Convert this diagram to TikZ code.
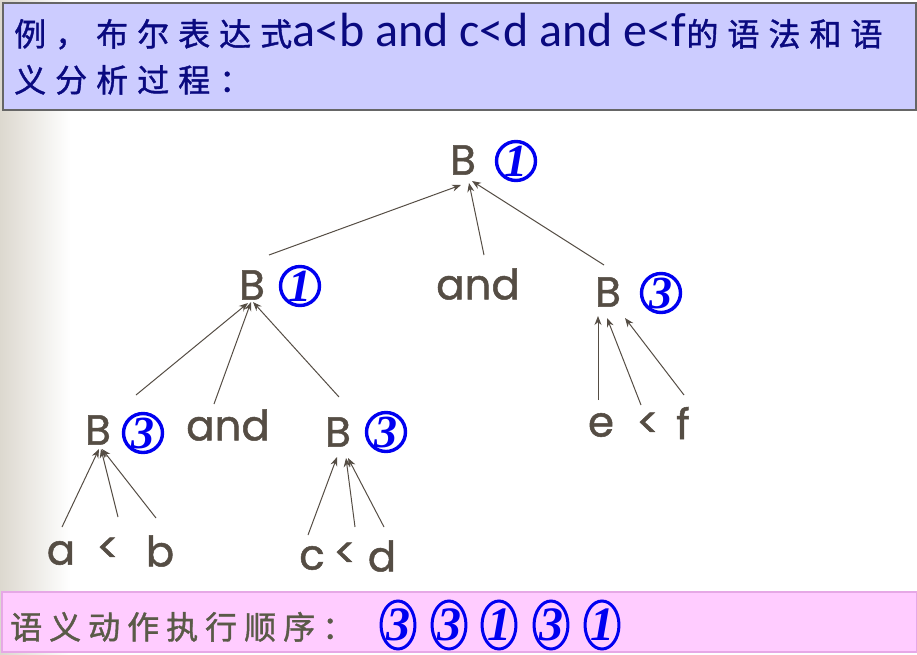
\documentclass[tikz,border=0pt]{standalone}
\usepackage{fontspec}
\setmainfont{Carlito}
\newfontfamily\cjk{Noto Sans CJK SC}[FakeBold=1.2]
\newfontfamily\treefont{Poppins}[FakeBold=1.2]
\newfontfamily\digfont{Liberation Serif}
\definecolor{hdrfill}{HTML}{CCCCFF}
\definecolor{hdrtext}{HTML}{0A0A80}
\definecolor{ftrfill}{HTML}{FFCCFF}
\definecolor{ftrline}{HTML}{E6A8E6}
\definecolor{treecol}{HTML}{554D44}
\definecolor{ftrtext}{HTML}{5A5A48}
\definecolor{bgleft}{HTML}{DCD8CF}
\definecolor{numblue}{HTML}{0000F0}
\usetikzlibrary{arrows.meta,shapes.geometric}
\def\gap{\hspace{9pt}}
\def\fgap{\hspace{7pt}}
\tikzset{
  lab/.style={font=\treefont\fontsize{42}{42}\selectfont, text=treecol, inner sep=0pt},
  num/.style={circle, draw=numblue, line width=3.4pt, minimum size=39pt, inner sep=0pt,
    text=numblue, font=\digfont\bfseries\itshape\fontsize{46}{46}\selectfont},
  seqnum/.style={ellipse, draw=numblue, line width=3pt, minimum width=33pt, minimum height=48pt, inner sep=0pt,
    text=numblue, font=\digfont\bfseries\itshape\fontsize{48}{48}\selectfont},
  edge/.style={draw=treecol, line width=1pt, -{Stealth[length=9pt,width=7pt]}},
}
\begin{document}
\begin{tikzpicture}[x=1pt,y=-1pt]
\useasboundingbox (0,0) rectangle (917,654);
% background
\shade[left color=bgleft, right color=white] (0,0) rectangle (70,654);
% header
\node[draw=black!60, line width=2pt, fill=hdrfill, minimum width=913pt, minimum height=107pt, anchor=north west, inner sep=0pt] (hdr) at (2,2) {};
\node[anchor=base west, inner sep=0pt, text=hdrtext, font=\fontsize{48}{48}\selectfont] (h1) at (14,46)
  {{\cjk\fontsize{32}{32}\selectfont 例\gap，\gap 布\gap 尔\gap 表\gap 达\gap 式}a<b and c<d and e<f{\cjk\fontsize{32}{32}\selectfont 的\gap 语\gap 法\gap 和\gap 语}};
\node[anchor=base west, inner sep=0pt, text=hdrtext, font=\cjk\fontsize{32}{32}\selectfont] (h2) at (14,92)
  {义\gap 分\gap 析\gap 过\gap 程\gap ：};
% footer
\node[draw=ftrline, line width=1.5pt, fill=ftrfill, minimum width=915pt, minimum height=60pt, anchor=north west, inner sep=0pt] (ftr) at (1,591) {};
\node[anchor=base west, inner sep=0pt, text=ftrtext, font=\cjk\fontsize{32}{32}\selectfont] (ft) at (10,639)
  {语\fgap 义\fgap 动\fgap 作\fgap 执\fgap 行\fgap 顺\fgap 序\fgap ：};
\node[seqnum] (s1) at (398,625) {3};
\node[seqnum] (s2) at (449,625) {3};
\node[seqnum] (s3) at (499,625) {1};
\node[seqnum] (s4) at (551,625) {3};
\node[seqnum] (s5) at (602,625) {1};
% tree nodes
\node[lab] (B0) at (463,160) {B};
\node[num] (n0) at (516,161) {1};
\node[lab] (B1) at (252,285) {B};
\node[num] (n1) at (300,286) {1};
\node[lab] (and1) at (478,284) {and};
\node[lab] (B2) at (608,292) {B};
\node[num] (n2) at (661,293) {3};
\node[lab] (B3) at (98,430) {B};
\node[num] (n3) at (143,433) {3};
\node[lab] (and2) at (228,425) {and};
\node[lab] (B4) at (338,432) {B};
\node[num] (n4) at (386,432) {3};
\node[lab] (e) at (601,425) {e};
\node[lab] (lt3) at (648,425) {<};
\node[lab] (f) at (683,423) {f};
\node[lab] (a) at (61,553) {a};
\node[lab] (lt1) at (108,550) {<};
\node[lab] (b) at (160,551) {b};
\node[lab] (c) at (312,558) {c};
\node[lab] (lt2) at (345,555) {<};
\node[lab] (d) at (382,556) {d};
% edge endpoints
\coordinate (B1top) at (269,255);
\coordinate (and1top) at (484,255);
\coordinate (B2top) at (604,265);
\coordinate (B0l) at (461,185);
\coordinate (B0m) at (469,183);
\coordinate (B0r) at (472,181);
\coordinate (B3top) at (136,395);
\coordinate (and2top) at (214,404);
\coordinate (B4top) at (339,397);
\coordinate (B1l) at (248,303);
\coordinate (B1m) at (251,302);
\coordinate (B1r) at (253,302);
\coordinate (atop) at (62,527);
\coordinate (lt1top) at (118,517);
\coordinate (btop) at (156,518);
\coordinate (B3l) at (99,449);
\coordinate (B3m) at (101,449);
\coordinate (B3r) at (102,449);
\coordinate (ctop) at (308,535);
\coordinate (lt2top) at (355,527);
\coordinate (dtop) at (384,527);
\coordinate (B4l) at (337,457);
\coordinate (B4m) at (346,458);
\coordinate (B4r) at (348,458);
\coordinate (etop) at (598,400);
\coordinate (lt3top) at (641,405);
\coordinate (ftop) at (684,395);
\coordinate (B2l) at (598,316);
\coordinate (B2m) at (607,318);
\coordinate (B2r) at (625,318);
% edges
\draw[edge] (B1top) -- (B0l);
\draw[edge] (and1top) -- (B0m);
\draw[edge] (B2top) -- (B0r);
\draw[edge] (B3top) -- (B1l);
\draw[edge] (and2top) -- (B1m);
\draw[edge] (B4top) -- (B1r);
\draw[edge] (atop) -- (B3l);
\draw[edge] (lt1top) -- (B3m);
\draw[edge] (btop) -- (B3r);
\draw[edge] (ctop) -- (B4l);
\draw[edge] (lt2top) -- (B4m);
\draw[edge] (dtop) -- (B4r);
\draw[edge] (etop) -- (B2l);
\draw[edge] (lt3top) -- (B2m);
\draw[edge] (ftop) -- (B2r);
\end{tikzpicture}
\end{document}
